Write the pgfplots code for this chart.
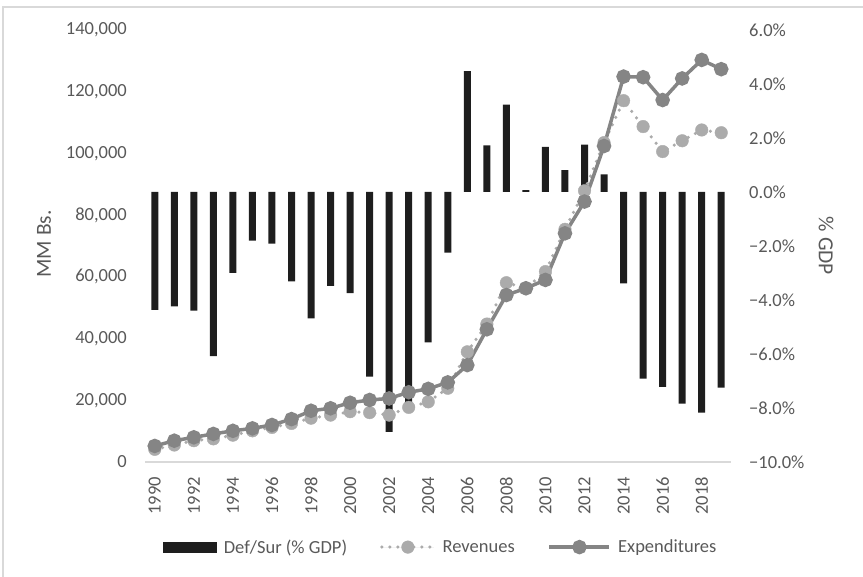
\documentclass[border=0pt]{standalone}
\usepackage{pgfplots}
\pgfplotsset{compat=1.18}
\usepackage{fontspec}
\setmainfont{Carlito}
\definecolor{barcol}{HTML}{1E1E1E}
\definecolor{expcol}{HTML}{858585}
\definecolor{revcol}{HTML}{ABABAB}
\definecolor{txtcol}{HTML}{595959}
\definecolor{framecol}{HTML}{D9D9D9}
\newcommand{\lbl}{\fontsize{18.5bp}{22bp}\selectfont}
\newcommand{\ttl}{\fontsize{21.5bp}{25bp}\selectfont}
\begin{document}
\begin{tikzpicture}[x=1bp,y=1bp]
\useasboundingbox (0,0) rectangle (863,577);
\draw[framecol, line width=1.2bp] (3,-3) -- (3,570) -- (866,570);
\begin{axis}[at={(145bp,115bp)}, anchor=south west, width=586bp, height=432bp, scale only axis,
  xmin=1989.5, xmax=2019.5, ymin=-10, ymax=6,
  axis x line*=bottom, axis y line*=right,
  x axis line style={draw=framecol, line width=1.2bp, -},
  y axis line style={draw=none},
  major tick length=0pt,
  xtick={1990,1992,1994,1996,1998,2000,2002,2004,2006,2008,2010,2012,2014,2016,2018},
  xticklabels={1990,1992,1994,1996,1998,2000,2002,2004,2006,2008,2010,2012,2014,2016,2018},
  ytick={-10,-8,-6,-4,-2,0,2,4,6},
  yticklabels={−10.0\%,−8.0\%,−6.0\%,−4.0\%,−2.0\%,0.0\%,2.0\%,4.0\%,6.0\%},
  tick label style={font=\lbl, text=txtcol},
  xticklabel style={rotate=90, anchor=east, inner sep=0pt},
  xticklabel shift=15bp,
  yticklabel style={anchor=west, inner sep=0pt},
  yticklabel shift=18bp,
  scaled y ticks=false,
]
\addplot[ybar, bar width=7bp, fill=barcol, draw=none] coordinates {
(1990,-4.37) (1991,-4.24) (1992,-4.39) (1993,-6.08) (1994,-3.00) (1995,-1.80)
(1996,-1.91) (1997,-3.31) (1998,-4.68) (1999,-3.48) (2000,-3.75) (2001,-6.84)
(2002,-8.88) (2003,-7.85) (2004,-5.57) (2005,-2.25) (2006,4.48) (2007,1.73)
(2008,3.24) (2009,0.07) (2010,1.67) (2011,0.81) (2012,1.75) (2013,0.65)
(2014,-3.38) (2015,-6.91) (2016,-7.22) (2017,-7.84) (2018,-8.17) (2019,-7.25)};
\end{axis}
\pgfplotstableread{
year rev exp
1990 4100 5200
1991 5500 6900
1992 6900 8000
1993 7500 9100
1994 8700 10100
1995 10100 10900
1996 11200 12000
1997 12500 13900
1998 14200 16600
1999 15200 17400
2000 16300 19200
2001 16000 20100
2002 15200 20600
2003 17700 22600
2004 19500 23700
2005 23900 25800
2006 35700 31400
2007 44700 43000
2008 58100 54100
2009 56300 56300
2010 61700 59000
2011 75400 74100
2012 87900 84400
2013 103500 102400
2014 117100 124900
2015 108700 124700
2016 100600 117300
2017 104100 124300
2018 107600 130300
2019 106700 127300
}\lines
\begin{axis}[at={(145bp,115bp)}, anchor=south west, width=586bp, height=432bp, scale only axis,
  xmin=1989.5, xmax=2019.5, ymin=0, ymax=140000,
  axis x line=none, xtick=\empty,
  axis y line*=left,
  y axis line style={draw=none},
  major tick length=0pt,
  ytick={0,20000,40000,60000,80000,100000,120000,140000},
  yticklabels={0,{20,000},{40,000},{60,000},{80,000},{100,000},{120,000},{140,000}},
  tick label style={font=\lbl, text=txtcol},
  yticklabel style={anchor=east, inner sep=0pt},
  yticklabel shift=18bp,
  scaled y ticks=false,
  legend columns=3,
  legend cell align=left,
  legend style={at={(0.505,-0.197)}, anchor=center, draw=none, fill=none,
    font=\lbl, text=txtcol,
    /tikz/every odd column/.append style={column sep=5bp},
    /tikz/every even column/.append style={column sep=31bp}},
]
\addlegendimage{legend image code/.code={\fill[barcol] (0bp,-5bp) rectangle (53bp,5bp);}}
\addlegendentry{Def/Sur (\% GDP)}
\addplot[forget plot, color=revcol, line width=3.5bp, line cap=round, dash pattern=on 0bp off 8bp, mark=none]
  table[x=year, y=rev] {\lines};
\addplot[only marks, mark=*, mark size=6.3bp, color=revcol, fill=revcol,
  legend image code/.code={\draw[revcol, line width=3.5bp, line cap=round, dash pattern=on 0bp off 8bp] (0bp,0bp) -- (52bp,0bp); \fill[revcol] (26bp,0bp) circle (6.3bp);}]
  table[x=year, y=rev] {\lines};
\addlegendentry{Revenues}
\addplot[color=expcol, line width=3.5bp, mark=*, mark size=5.5bp, mark options={solid, fill=expcol, draw=none},
  legend image code/.code={\draw[expcol, line width=3.5bp] (0bp,0bp) -- (60bp,0bp); \fill[expcol] (30bp,0bp) circle (5.5bp);}]
  table[x=year, y=exp] {\lines};
\addlegendentry{Expenditures}
\end{axis}
\node[rotate=90, font=\ttl, text=txtcol] at (44,333) {MM Bs.};
\node[rotate=-90, font=\ttl, text=txtcol] at (826,331) {\% GDP};
\end{tikzpicture}
\end{document}
